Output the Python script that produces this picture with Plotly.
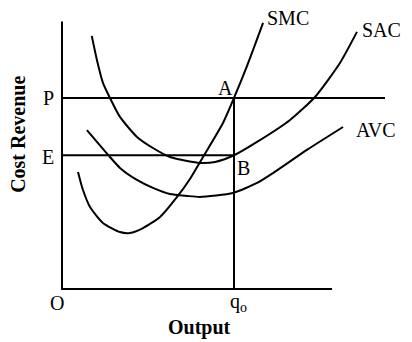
import plotly.graph_objects as go

# ---------------- data (output units, cost units) ---------------- #
smc_x = [0.93, 1.22, 1.63, 2.38, 3.37, 3.95, 4.71, 5.70, 6.69, 7.44, 8.20, 9.36, 10.0, 10.76, 11.69]
smc_y = [6.13, 5.18, 4.29, 3.46, 2.98, 2.93, 3.19, 3.77, 4.82, 5.76, 6.91, 8.69, 10.0, 11.68, 13.93]

sac_x = [1.73, 2.03, 2.38, 2.79, 3.37, 4.36, 5.29, 6.28, 7.27, 8.02, 8.90, 10.0, 11.34, 13.26, 14.71, 16.16, 17.15]
sac_y = [13.25, 11.99, 10.79, 10.0, 9.01, 7.96, 7.38, 6.91, 6.70, 6.60, 6.65, 7.00, 7.70, 8.85, 10.05, 11.83, 13.46]

avc_x = [1.45, 2.79, 3.37, 4.36, 5.29, 6.28, 7.27, 8.02, 9.94, 11.34, 12.27, 14.24, 16.34]
avc_y = [8.32, 6.91, 6.34, 5.71, 5.29, 4.97, 4.87, 4.82, 5.03, 5.55, 6.07, 7.28, 8.48]

price_p = 10.0
price_e = 7.0
q0 = 10.0
p_line_end = 18.78
x_axis_end = 15.7
y_axis_end = 14.0

FONT = "Liberation Serif"

fig = go.Figure()

line_style = dict(color="black", width=2)

# axes
fig.add_trace(go.Scatter(x=[0, 0, x_axis_end], y=[y_axis_end, 0, 0], mode="lines",
                         line=line_style, hoverinfo="skip"))
# price lines and q0 drop line
fig.add_trace(go.Scatter(x=[0, p_line_end], y=[price_p, price_p], mode="lines",
                         line=line_style, hoverinfo="skip"))
fig.add_trace(go.Scatter(x=[0, q0], y=[price_e, price_e], mode="lines",
                         line=line_style, hoverinfo="skip"))
fig.add_trace(go.Scatter(x=[q0, q0], y=[0, price_p], mode="lines",
                         line=line_style, hoverinfo="skip"))

# cost curves
for nm, xs, ys in [("SMC", smc_x, smc_y), ("SAC", sac_x, sac_y), ("AVC", avc_x, avc_y)]:
    fig.add_trace(go.Scatter(name=nm, x=xs, y=ys, mode="lines",
                             line=dict(color="black", width=2, shape="spline", smoothing=0.6),
                             hoverinfo="skip"))

# -------------------------- labels ---------------------- #
labels = [
    ("SMC", 13.14, 14.18),
    ("SAC", 18.60, 13.56),
    ("AVC", 18.26, 8.32),
    ("P", -0.81, price_p),
    ("E", -0.81, 6.91),
    ("A", 9.53, 10.52),
    ("B", 10.58, 6.33),
    ("O", -0.29, -0.73),
    ("q<sub>o</sub>", 10.25, -0.73),
]
for txt, lx, ly in labels:
    fig.add_annotation(x=lx, y=ly, text=txt, showarrow=False, borderpad=0,
                       font=dict(family=FONT, size=20, color="black"))

fig.add_annotation(x=7.97, y=-2.04, text="<b>Output</b>", showarrow=False,
                   font=dict(family=FONT, size=20, color="black"))
fig.add_annotation(x=-2.56, y=8.12, text="<b>Cost Revenue</b>", showarrow=False,
                   textangle=-90, font=dict(family=FONT, size=20, color="black"))

# page body has an 8px margin, so the figure is a bit smaller than the window
fig.update_layout(
    width=404, height=334,
    margin=dict(l=0, r=0, t=0, b=0),
    paper_bgcolor="white", plot_bgcolor="white",
    showlegend=False,
    xaxis=dict(range=[-3.14, 20.35], visible=False, fixedrange=True),
    yaxis=dict(range=[-2.775, 14.71], visible=False, fixedrange=True),
)

fig.write_html("out.html")
